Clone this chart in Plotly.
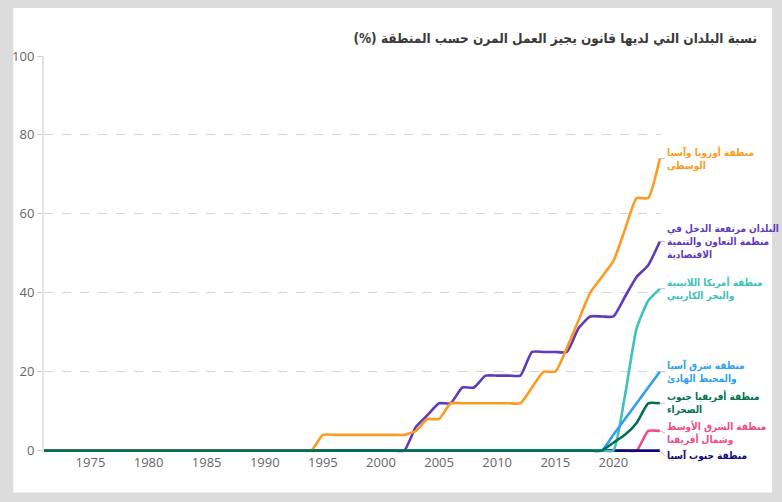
import plotly.graph_objects as go

years = list(range(1971, 2025))

# share of countries (%) per region, one value per year 1971-2024
europe_central_asia = [
    0, 0, 0, 0, 0, 0, 0, 0, 0, 0, 0, 0, 0, 0, 0, 0, 0, 0, 0, 0, 0, 0, 0, 0,
    4, 4, 4, 4, 4, 4, 4, 4,
    5, 8, 8,
    12, 12, 12, 12, 12, 12, 12,
    16, 20, 20, 26, 33, 40, 44, 48, 56, 64, 64, 74,
]
oecd_high_income = [
    0, 0, 0, 0, 0, 0, 0, 0, 0, 0, 0, 0, 0, 0, 0, 0, 0, 0, 0, 0, 0, 0, 0, 0,
    0, 0, 0, 0, 0, 0, 0, 0,
    6, 9, 12, 12, 16, 16, 19, 19, 19, 19, 25, 25, 25, 25,
    31, 34, 34, 34, 39, 44, 47, 53,
]
latin_america = [
    0, 0, 0, 0, 0, 0, 0, 0, 0, 0, 0, 0, 0, 0, 0, 0, 0, 0, 0, 0, 0, 0, 0, 0,
    0, 0, 0, 0, 0, 0, 0, 0, 0, 0, 0, 0, 0, 0, 0, 0, 0, 0, 0, 0, 0, 0, 0, 0,
    0, 0, 14, 31, 38, 41,
]
east_asia_pacific = [
    0, 0, 0, 0, 0, 0, 0, 0, 0, 0, 0, 0, 0, 0, 0, 0, 0, 0, 0, 0, 0, 0, 0, 0,
    0, 0, 0, 0, 0, 0, 0, 0, 0, 0, 0, 0, 0, 0, 0, 0, 0, 0, 0, 0, 0, 0, 0, 0,
    0, 4, 8, 12, 16, 20,
]
sub_saharan_africa = [
    0, 0, 0, 0, 0, 0, 0, 0, 0, 0, 0, 0, 0, 0, 0, 0, 0, 0, 0, 0, 0, 0, 0, 0,
    0, 0, 0, 0, 0, 0, 0, 0, 0, 0, 0, 0, 0, 0, 0, 0, 0, 0, 0, 0, 0, 0, 0, 0,
    0, 2, 4, 7, 12, 12,
]
mena = [
    0, 0, 0, 0, 0, 0, 0, 0, 0, 0, 0, 0, 0, 0, 0, 0, 0, 0, 0, 0, 0, 0, 0, 0,
    0, 0, 0, 0, 0, 0, 0, 0, 0, 0, 0, 0, 0, 0, 0, 0, 0, 0, 0, 0, 0, 0, 0, 0,
    0, 0, 0, 0, 5, 5,
]
south_asia = [
    0, 0, 0, 0, 0, 0, 0, 0, 0, 0, 0, 0, 0, 0, 0, 0, 0, 0, 0, 0, 0, 0, 0, 0,
    0, 0, 0, 0, 0, 0, 0, 0, 0, 0, 0, 0, 0, 0, 0, 0, 0, 0, 0, 0, 0, 0, 0, 0,
    0, 0, 0, 0, 0, 0,
]

x_ticks = [1975, 1980, 1985, 1990, 1995, 2000, 2005, 2010, 2015, 2020]
y_ticks = [0, 20, 40, 60, 80, 100]

title = "نسبة البلدان التي لديها قانون يجيز العمل المرن حسب المنطقة (%)"

ARABIC_FONT = 'DejaVu Sans Condensed, DejaVu Sans'

# drawing order: bottom first, green ends on top along the zero line
series = [
    ("منطقة الشرق الأوسط<br>وشمال أفريقيا", mena, "#ef4b85", 2),
    ("منطقة جنوب آسيا", south_asia, "#0c0b7c", 5),
    ("منطقة أمريكا اللاتينية<br>والبحر الكاريبي", latin_america, "#3ec0bb", 0),
    ("منطقة شرق آسيا<br>والمحيط الهادئ", east_asia_pacific, "#2f9ff0", 0),
    ("البلدان مرتفعة الدخل في<br>منظمة التعاون والتنمية<br>الاقتصادية", oecd_high_income, "#5f3bbb", 0),
    ("منطقة أوروبا وآسيا<br>الوسطى", europe_central_asia, "#fd9a22", 0),
    ("منطقة أفريقيا جنوب<br>الصحراء", sub_saharan_africa, "#04704f", 0),
]

fig = go.Figure()

for name, values, color, shift in series:
    fig.add_trace(go.Scatter(x=years, y=values, mode='lines', name=name,
                             line=dict(color=color, width=2.6, shape='spline', smoothing=0.5),
                             hoverinfo='skip'))
    fig.add_annotation(x=years[-1], y=values[-1], text=name, showarrow=True,
                       arrowhead=0, arrowwidth=1, arrowcolor='#bbbbbb', standoff=0,
                       ax=5, ay=shift, xanchor='left', yanchor='middle', align='left',
                       font=dict(family=ARABIC_FONT, size=10, color=color, weight='bold'))

# white card on grey page
fig.add_shape(type='rect', xref='paper', yref='paper', x0=-0.0498, x1=1.18, y0=-0.0997, y1=1.1208,
              fillcolor='white', line_width=0, layer='below')

fig.update_layout(
    width=782, height=502,
    margin=dict(l=39, r=121, t=56, b=48.6),
    paper_bgcolor='#dcdcdc', plot_bgcolor='white',
    showlegend=False,
    title=dict(text='\u202b' + title + '\u202c', xref='container', x=0.968, xanchor='right',
               yref='container', y=0.924, yanchor='middle',
               font=dict(family=ARABIC_FONT, size=13.5, color='#3a3a3a', weight='bold')),
    xaxis=dict(range=[1971, 2024.1], tickvals=x_ticks, showgrid=False, zeroline=False,
               showline=False, ticks='', tickfont=dict(family='Open Sans', size=13, color='#666666')),
    yaxis=dict(range=[-0.6, 100], tickvals=y_ticks, showgrid=True, gridcolor='#d4d4de',
               griddash='dash', gridwidth=1, zeroline=False, showline=True, linecolor='#e2e2ea',
               linewidth=2, ticks='outside', ticklen=5, tickcolor='#d0d0d8',
               tickfont=dict(family='Open Sans', size=13, color='#666666')),
)

# the page keeps the browser's default 8px body margin otherwise
fig.write_html("out.html", config={'displayModeBar': False},
               post_script="document.body.style.margin='0';")
